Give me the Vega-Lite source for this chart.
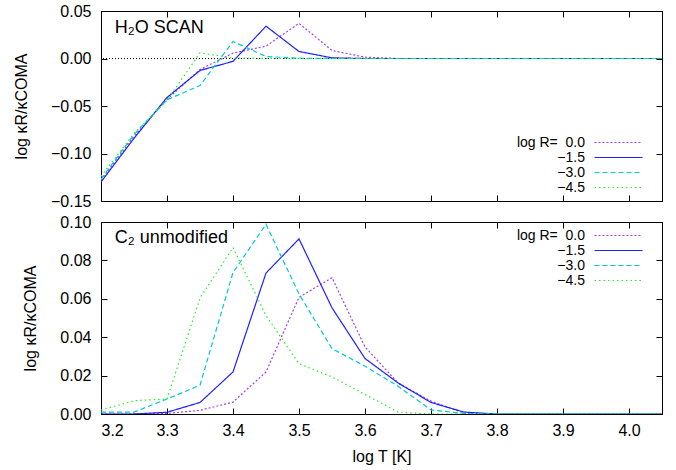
{
  "$schema": "https://vega.github.io/schema/vega-lite/v6.json",
  "padding": {"left": 13, "top": 2, "right": 5, "bottom": 2},
  "config": {
    "font": "Liberation Sans",
    "view": {"stroke": "black", "strokeWidth": 1},
    "axis": {
      "labelFontSize": 16, "titleFontSize": 16, "titleFontWeight": "normal",
      "labelColor": "black", "titleColor": "black", "domainColor": "black",
      "tickColor": "black", "grid": false, "tickSize": -6, "labelPadding": 16,
      "labelFont": "Liberation Sans", "titleFont": "Liberation Sans"
    },
    "legend": {
      "labelFont": "Liberation Sans", "labelFontSize": 14, "labelColor": "black"
    }
  },
  "datasets": {
    "curves": [
      {"panel": "H2O", "logR": "0.0", "T": 3.20, "v": -0.128},
      {"panel": "H2O", "logR": "0.0", "T": 3.25, "v": -0.082},
      {"panel": "H2O", "logR": "0.0", "T": 3.30, "v": -0.043},
      {"panel": "H2O", "logR": "0.0", "T": 3.35, "v": -0.0116},
      {"panel": "H2O", "logR": "0.0", "T": 3.40, "v": 0.0056},
      {"panel": "H2O", "logR": "0.0", "T": 3.45, "v": 0.013},
      {"panel": "H2O", "logR": "0.0", "T": 3.50, "v": 0.037},
      {"panel": "H2O", "logR": "0.0", "T": 3.55, "v": 0.0084},
      {"panel": "H2O", "logR": "0.0", "T": 3.60, "v": 0.0014},
      {"panel": "H2O", "logR": "0.0", "T": 3.65, "v": 0.0},
      {"panel": "H2O", "logR": "0.0", "T": 3.70, "v": 0.0},
      {"panel": "H2O", "logR": "0.0", "T": 3.80, "v": 0.0},
      {"panel": "H2O", "logR": "0.0", "T": 3.90, "v": 0.0},
      {"panel": "H2O", "logR": "0.0", "T": 4.05, "v": 0.0},
      {"panel": "H2O", "logR": "−1.5", "T": 3.20, "v": -0.130},
      {"panel": "H2O", "logR": "−1.5", "T": 3.25, "v": -0.084},
      {"panel": "H2O", "logR": "−1.5", "T": 3.30, "v": -0.041},
      {"panel": "H2O", "logR": "−1.5", "T": 3.35, "v": -0.0126},
      {"panel": "H2O", "logR": "−1.5", "T": 3.40, "v": -0.003},
      {"panel": "H2O", "logR": "−1.5", "T": 3.45, "v": 0.034},
      {"panel": "H2O", "logR": "−1.5", "T": 3.50, "v": 0.0074},
      {"panel": "H2O", "logR": "−1.5", "T": 3.55, "v": 0.0007},
      {"panel": "H2O", "logR": "−1.5", "T": 3.60, "v": 0.0},
      {"panel": "H2O", "logR": "−1.5", "T": 3.70, "v": 0.0},
      {"panel": "H2O", "logR": "−1.5", "T": 3.80, "v": 0.0},
      {"panel": "H2O", "logR": "−1.5", "T": 3.90, "v": 0.0},
      {"panel": "H2O", "logR": "−1.5", "T": 4.05, "v": 0.0},
      {"panel": "H2O", "logR": "−3.0", "T": 3.20, "v": -0.127},
      {"panel": "H2O", "logR": "−3.0", "T": 3.25, "v": -0.080},
      {"panel": "H2O", "logR": "−3.0", "T": 3.30, "v": -0.0435},
      {"panel": "H2O", "logR": "−3.0", "T": 3.35, "v": -0.0284},
      {"panel": "H2O", "logR": "−3.0", "T": 3.40, "v": 0.0179},
      {"panel": "H2O", "logR": "−3.0", "T": 3.45, "v": 0.0021},
      {"panel": "H2O", "logR": "−3.0", "T": 3.50, "v": 0.0003},
      {"panel": "H2O", "logR": "−3.0", "T": 3.55, "v": 0.0},
      {"panel": "H2O", "logR": "−3.0", "T": 3.70, "v": 0.0},
      {"panel": "H2O", "logR": "−3.0", "T": 3.80, "v": 0.0},
      {"panel": "H2O", "logR": "−3.0", "T": 3.90, "v": 0.0},
      {"panel": "H2O", "logR": "−3.0", "T": 4.05, "v": 0.0},
      {"panel": "H2O", "logR": "−4.5", "T": 3.20, "v": -0.124},
      {"panel": "H2O", "logR": "−4.5", "T": 3.25, "v": -0.079},
      {"panel": "H2O", "logR": "−4.5", "T": 3.30, "v": -0.044},
      {"panel": "H2O", "logR": "−4.5", "T": 3.35, "v": 0.006},
      {"panel": "H2O", "logR": "−4.5", "T": 3.40, "v": 0.0005},
      {"panel": "H2O", "logR": "−4.5", "T": 3.45, "v": 0.0},
      {"panel": "H2O", "logR": "−4.5", "T": 3.60, "v": 0.0},
      {"panel": "H2O", "logR": "−4.5", "T": 3.80, "v": 0.0},
      {"panel": "H2O", "logR": "−4.5", "T": 4.05, "v": 0.0},
      {"panel": "C2", "logR": "0.0", "T": 3.20, "v": 0.0},
      {"panel": "C2", "logR": "0.0", "T": 3.25, "v": 0.0},
      {"panel": "C2", "logR": "0.0", "T": 3.30, "v": 0.0003},
      {"panel": "C2", "logR": "0.0", "T": 3.35, "v": 0.0019},
      {"panel": "C2", "logR": "0.0", "T": 3.40, "v": 0.0062},
      {"panel": "C2", "logR": "0.0", "T": 3.45, "v": 0.0219},
      {"panel": "C2", "logR": "0.0", "T": 3.50, "v": 0.0608},
      {"panel": "C2", "logR": "0.0", "T": 3.55, "v": 0.0710},
      {"panel": "C2", "logR": "0.0", "T": 3.60, "v": 0.0349},
      {"panel": "C2", "logR": "0.0", "T": 3.65, "v": 0.0162},
      {"panel": "C2", "logR": "0.0", "T": 3.70, "v": 0.0067},
      {"panel": "C2", "logR": "0.0", "T": 3.75, "v": 0.0005},
      {"panel": "C2", "logR": "0.0", "T": 3.80, "v": 0.0},
      {"panel": "C2", "logR": "0.0", "T": 4.05, "v": 0.0},
      {"panel": "C2", "logR": "−1.5", "T": 3.20, "v": 0.0},
      {"panel": "C2", "logR": "−1.5", "T": 3.25, "v": 0.0},
      {"panel": "C2", "logR": "−1.5", "T": 3.30, "v": 0.0009},
      {"panel": "C2", "logR": "−1.5", "T": 3.35, "v": 0.0060},
      {"panel": "C2", "logR": "−1.5", "T": 3.40, "v": 0.0219},
      {"panel": "C2", "logR": "−1.5", "T": 3.45, "v": 0.0734},
      {"panel": "C2", "logR": "−1.5", "T": 3.50, "v": 0.0912},
      {"panel": "C2", "logR": "−1.5", "T": 3.55, "v": 0.0553},
      {"panel": "C2", "logR": "−1.5", "T": 3.60, "v": 0.0289},
      {"panel": "C2", "logR": "−1.5", "T": 3.65, "v": 0.0162},
      {"panel": "C2", "logR": "−1.5", "T": 3.70, "v": 0.0060},
      {"panel": "C2", "logR": "−1.5", "T": 3.75, "v": 0.0010},
      {"panel": "C2", "logR": "−1.5", "T": 3.80, "v": 0.0},
      {"panel": "C2", "logR": "−1.5", "T": 4.05, "v": 0.0},
      {"panel": "C2", "logR": "−3.0", "T": 3.20, "v": 0.001},
      {"panel": "C2", "logR": "−3.0", "T": 3.25, "v": 0.001},
      {"panel": "C2", "logR": "−3.0", "T": 3.30, "v": 0.0078},
      {"panel": "C2", "logR": "−3.0", "T": 3.35, "v": 0.0150},
      {"panel": "C2", "logR": "−3.0", "T": 3.40, "v": 0.0737},
      {"panel": "C2", "logR": "−3.0", "T": 3.45, "v": 0.0988},
      {"panel": "C2", "logR": "−3.0", "T": 3.50, "v": 0.0625},
      {"panel": "C2", "logR": "−3.0", "T": 3.55, "v": 0.0340},
      {"panel": "C2", "logR": "−3.0", "T": 3.60, "v": 0.0249},
      {"panel": "C2", "logR": "−3.0", "T": 3.65, "v": 0.0145},
      {"panel": "C2", "logR": "−3.0", "T": 3.70, "v": 0.0021},
      {"panel": "C2", "logR": "−3.0", "T": 3.75, "v": 0.0003},
      {"panel": "C2", "logR": "−3.0", "T": 3.80, "v": 0.0},
      {"panel": "C2", "logR": "−3.0", "T": 4.05, "v": 0.0},
      {"panel": "C2", "logR": "−4.5", "T": 3.20, "v": 0.002},
      {"panel": "C2", "logR": "−4.5", "T": 3.25, "v": 0.0069},
      {"panel": "C2", "logR": "−4.5", "T": 3.30, "v": 0.0078},
      {"panel": "C2", "logR": "−4.5", "T": 3.35, "v": 0.0604},
      {"panel": "C2", "logR": "−4.5", "T": 3.40, "v": 0.0867},
      {"panel": "C2", "logR": "−4.5", "T": 3.45, "v": 0.0513},
      {"panel": "C2", "logR": "−4.5", "T": 3.50, "v": 0.0262},
      {"panel": "C2", "logR": "−4.5", "T": 3.55, "v": 0.0193},
      {"panel": "C2", "logR": "−4.5", "T": 3.60, "v": 0.0102},
      {"panel": "C2", "logR": "−4.5", "T": 3.65, "v": 0.0010},
      {"panel": "C2", "logR": "−4.5", "T": 3.70, "v": 0.0},
      {"panel": "C2", "logR": "−4.5", "T": 4.05, "v": 0.0}
    ]
  },
  "spacing": 3,
  "resolve": {
    "scale": {"color": "independent", "strokeDash": "independent"},
    "legend": {"color": "independent", "strokeDash": "independent"}
  },
  "vconcat": [
    {
      "width": 561,
      "height": 190,
      "resolve": {"axis": {"x": "independent", "y": "independent"}},
      "layer": [
        {
          "data": {"values": [{}]},
          "mark": {"type": "rule", "color": "black", "strokeWidth": 1, "strokeDash": [1, 2]},
          "encoding": {"y": {"datum": 0, "type": "quantitative", "axis": null, "scale": {"domain": [-0.15, 0.05], "nice": false, "zero": false}}}
        },
        {
          "data": {"name": "curves"},
          "transform": [{"filter": "datum.panel == 'H2O'"}],
          "mark": {"type": "line", "strokeWidth": 1.2, "clip": true},
          "encoding": {
            "x": {"field": "T", "type": "quantitative",
                  "scale": {"domain": [3.2, 4.05], "nice": false, "zero": false},
                  "axis": {"orient": "bottom", "labels": false, "title": null,
                           "values": [3.2, 3.3, 3.4, 3.5, 3.6, 3.7, 3.8, 3.9, 4.0]}},
            "y": {"field": "v", "type": "quantitative",
                  "scale": {"domain": [-0.15, 0.05], "nice": false, "zero": false},
                  "axis": {"orient": "left", "title": "log κR/κCOMA", "format": ".2f",
                           "values": [-0.15, -0.1, -0.05, 0, 0.05], "titlePadding": 21}},
            "color": {"field": "logR", "type": "nominal",
                      "scale": {"domain": ["0.0", "−1.5", "−3.0", "−4.5"], "range": ["#a040e8", "#1f1fff", "#00cccc", "#22ee22"]},
                      "legend": {"title": null, "orient": "none", "legendX": 409.5, "legendY": 123.5,
                                 "symbolType": "M-3.34,0H3.34", "symbolSize": 207, "symbolStrokeWidth": 1.2,
                                 "rowPadding": 0, "padding": 0,
                                 "symbolOffset": 100, "labelOffset": -41.5, "labelAlign": "right",
                                 "labelExpr": "datum.label == '0.0' ? 'log R=\u00a0\u00a00.0' : datum.label"}},
            "strokeDash": {"field": "logR", "type": "nominal",
                           "scale": {"domain": ["0.0", "−1.5", "−3.0", "−4.5"], "range": [[2, 2], [1, 0], [5, 3], [1.5, 3]]},
                           "legend": {"title": null, "orient": "none", "legendX": 409.5, "legendY": 123.5,
                                      "symbolType": "M-3.34,0H3.34", "symbolSize": 207, "symbolStrokeWidth": 1.2,
                                      "rowPadding": 0, "padding": 0,
                                      "symbolOffset": 100, "labelOffset": -41.5, "labelAlign": "right",
                                      "labelExpr": "datum.label == '0.0' ? 'log R=\u00a0\u00a00.0' : datum.label"}}
          }
        },
        {
          "data": {"name": "curves"},
          "transform": [{"filter": "datum.panel == 'H2O'"}],
          "mark": {"type": "line", "opacity": 0},
          "encoding": {
            "x": {"field": "T", "type": "quantitative",
                  "axis": {"orient": "top", "labels": false, "title": null,
                           "values": [3.2, 3.3, 3.4, 3.5, 3.6, 3.7, 3.8, 3.9, 4.0]}},
            "y": {"field": "v", "type": "quantitative",
                  "axis": {"orient": "right", "labels": false, "title": null,
                           "values": [-0.15, -0.1, -0.05, 0, 0.05]}}
          }
        },
        {
          "data": {"values": [{}]},
          "mark": {"type": "text", "align": "left", "baseline": "alphabetic", "fontSize": 18, "font": "Liberation Sans", "color": "black"},
          "encoding": {
            "x": {"datum": 3.221, "type": "quantitative", "axis": null},
            "y": {"datum": 0.0268, "type": "quantitative", "axis": null},
            "text": {"value": "H₂O SCAN"}
          }
        }
      ]
    },
    {
      "width": 561,
      "height": 192,
      "resolve": {"axis": {"x": "independent", "y": "independent"}},
      "layer": [
        {
          "data": {"name": "curves"},
          "transform": [{"filter": "datum.panel == 'C2'"}],
          "mark": {"type": "line", "strokeWidth": 1.2, "clip": true},
          "encoding": {
            "x": {"field": "T", "type": "quantitative",
                  "scale": {"domain": [3.2, 4.05], "nice": false, "zero": false},
                  "axis": {"orient": "bottom", "title": "log T [K]", "format": ".1f", "titlePadding": 10, "labelPadding": 14,
                           "values": [3.2, 3.3, 3.4, 3.5, 3.6, 3.7, 3.8, 3.9, 4.0]}},
            "y": {"field": "v", "type": "quantitative",
                  "scale": {"domain": [0, 0.1], "nice": false, "zero": false},
                  "axis": {"orient": "left", "title": "log κR/κCOMA", "format": ".2f",
                           "values": [0, 0.02, 0.04, 0.06, 0.08, 0.1], "titlePadding": 21}},
            "color": {"field": "logR", "type": "nominal",
                      "scale": {"domain": ["0.0", "−1.5", "−3.0", "−4.5"], "range": ["#a040e8", "#1f1fff", "#00cccc", "#22ee22"]},
                      "legend": {"title": null, "orient": "none", "legendX": 409.5, "legendY": 5.5,
                                 "symbolType": "M-3.34,0H3.34", "symbolSize": 207, "symbolStrokeWidth": 1.2,
                                 "rowPadding": 0, "padding": 0,
                                 "symbolOffset": 100, "labelOffset": -41.5, "labelAlign": "right",
                                 "labelExpr": "datum.label == '0.0' ? 'log R=\u00a0\u00a00.0' : datum.label"}},
            "strokeDash": {"field": "logR", "type": "nominal",
                           "scale": {"domain": ["0.0", "−1.5", "−3.0", "−4.5"], "range": [[2, 2], [1, 0], [5, 3], [1.5, 3]]},
                           "legend": {"title": null, "orient": "none", "legendX": 409.5, "legendY": 5.5,
                                      "symbolType": "M-3.34,0H3.34", "symbolSize": 207, "symbolStrokeWidth": 1.2,
                                      "rowPadding": 0, "padding": 0,
                                      "symbolOffset": 100, "labelOffset": -41.5, "labelAlign": "right",
                                      "labelExpr": "datum.label == '0.0' ? 'log R=\u00a0\u00a00.0' : datum.label"}}
          }
        },
        {
          "data": {"name": "curves"},
          "transform": [{"filter": "datum.panel == 'C2'"}],
          "mark": {"type": "line", "opacity": 0},
          "encoding": {
            "x": {"field": "T", "type": "quantitative",
                  "axis": {"orient": "top", "labels": false, "title": null,
                           "values": [3.2, 3.3, 3.4, 3.5, 3.6, 3.7, 3.8, 3.9, 4.0]}},
            "y": {"field": "v", "type": "quantitative",
                  "axis": {"orient": "right", "labels": false, "title": null,
                           "values": [0, 0.02, 0.04, 0.06, 0.08, 0.1]}}
          }
        },
        {
          "data": {"values": [{}]},
          "mark": {"type": "text", "align": "left", "baseline": "alphabetic", "fontSize": 18, "font": "Liberation Sans", "color": "black"},
          "encoding": {
            "x": {"datum": 3.221, "type": "quantitative", "axis": null},
            "y": {"datum": 0.089, "type": "quantitative", "axis": null},
            "text": {"value": "C₂ unmodified"}
          }
        }
      ]
    }
  ]
}
